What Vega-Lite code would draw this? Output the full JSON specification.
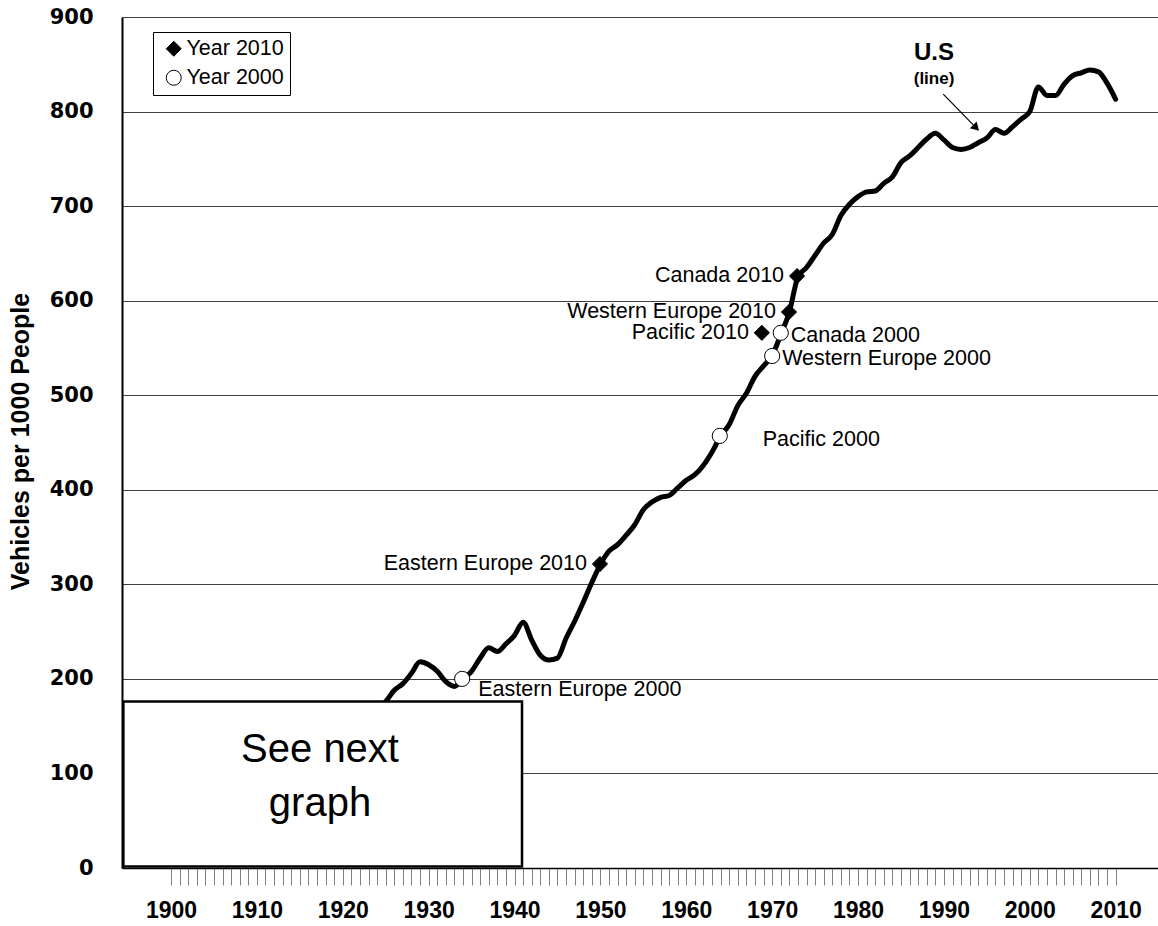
{
  "$schema": "https://vega.github.io/schema/vega-lite/v6.json",
  "width": 1036,
  "height": 851,
  "autosize": {"type": "none"},
  "padding": {"left": 122, "top": 17, "right": 0, "bottom": 58},
  "background": "white",
  "datasets": {
    "us": [
      {"year": 1924, "value": 166}, {"year": 1925, "value": 176}, {"year": 1926, "value": 188}, {"year": 1927, "value": 195},
      {"year": 1928, "value": 206}, {"year": 1929, "value": 218}, {"year": 1930, "value": 215}, {"year": 1931, "value": 208},
      {"year": 1932, "value": 197}, {"year": 1933, "value": 192}, {"year": 1934, "value": 200}, {"year": 1935, "value": 208},
      {"year": 1936, "value": 222}, {"year": 1937, "value": 233}, {"year": 1938, "value": 229}, {"year": 1939, "value": 237},
      {"year": 1940, "value": 246}, {"year": 1941, "value": 260}, {"year": 1942, "value": 241}, {"year": 1943, "value": 225},
      {"year": 1944, "value": 220}, {"year": 1945, "value": 222}, {"year": 1946, "value": 243}, {"year": 1947, "value": 261},
      {"year": 1948, "value": 281}, {"year": 1949, "value": 302}, {"year": 1950, "value": 321}, {"year": 1951, "value": 335},
      {"year": 1952, "value": 342}, {"year": 1953, "value": 352}, {"year": 1954, "value": 363}, {"year": 1955, "value": 379},
      {"year": 1956, "value": 387}, {"year": 1957, "value": 392}, {"year": 1958, "value": 394}, {"year": 1959, "value": 402},
      {"year": 1960, "value": 410}, {"year": 1961, "value": 416}, {"year": 1962, "value": 426}, {"year": 1963, "value": 440},
      {"year": 1964, "value": 457}, {"year": 1965, "value": 469}, {"year": 1966, "value": 489}, {"year": 1967, "value": 502},
      {"year": 1968, "value": 520}, {"year": 1969, "value": 531}, {"year": 1970, "value": 542}, {"year": 1971, "value": 564},
      {"year": 1972, "value": 588}, {"year": 1973, "value": 625}, {"year": 1974, "value": 635}, {"year": 1975, "value": 648},
      {"year": 1976, "value": 661}, {"year": 1977, "value": 670}, {"year": 1978, "value": 690}, {"year": 1979, "value": 702},
      {"year": 1980, "value": 710}, {"year": 1981, "value": 715}, {"year": 1982, "value": 716}, {"year": 1983, "value": 724},
      {"year": 1984, "value": 731}, {"year": 1985, "value": 746}, {"year": 1986, "value": 753}, {"year": 1987, "value": 762},
      {"year": 1988, "value": 771}, {"year": 1989, "value": 777}, {"year": 1990, "value": 770}, {"year": 1991, "value": 762},
      {"year": 1992, "value": 760}, {"year": 1993, "value": 762}, {"year": 1994, "value": 767}, {"year": 1995, "value": 772},
      {"year": 1996, "value": 781}, {"year": 1997, "value": 777}, {"year": 1998, "value": 784}, {"year": 1999, "value": 792},
      {"year": 2000, "value": 800}, {"year": 2001, "value": 826}, {"year": 2002, "value": 817}, {"year": 2003, "value": 817},
      {"year": 2004, "value": 829}, {"year": 2005, "value": 838}, {"year": 2006, "value": 841}, {"year": 2007, "value": 844},
      {"year": 2008, "value": 842}, {"year": 2009, "value": 830}, {"year": 2010, "value": 813}
    ],
    "pts": [
      {"label": "Eastern Europe 2010", "series": "Year 2010", "year": 1949.95, "value": 321.5},
      {"label": "Canada 2010", "series": "Year 2010", "year": 1972.9, "value": 626},
      {"label": "Western Europe 2010", "series": "Year 2010", "year": 1971.96, "value": 588},
      {"label": "Pacific 2010", "series": "Year 2010", "year": 1968.8, "value": 566},
      {"label": "Eastern Europe 2000", "series": "Year 2000", "year": 1933.9, "value": 200},
      {"label": "Canada 2000", "series": "Year 2000", "year": 1971.0, "value": 566},
      {"label": "Western Europe 2000", "series": "Year 2000", "year": 1970.0, "value": 541.5},
      {"label": "Pacific 2000", "series": "Year 2000", "year": 1963.9, "value": 457}
    ],
    "one": [{}]
  },
  "layer": [
    {
      "data": {"name": "us"},
      "mark": {"type": "line", "color": "black", "strokeWidth": 5, "interpolate": "monotone", "strokeJoin": "round", "strokeCap": "round"},
      "encoding": {
        "x": {
          "field": "year", "type": "quantitative",
          "scale": {"domain": [1894.29, 2014.93], "nice": false, "zero": false},
          "axis": {
            "title": null,
            "values": [1900,1901,1902,1903,1904,1905,1906,1907,1908,1909,1910,1911,1912,1913,1914,1915,1916,1917,1918,1919,1920,1921,1922,1923,1924,1925,1926,1927,1928,1929,1930,1931,1932,1933,1934,1935,1936,1937,1938,1939,1940,1941,1942,1943,1944,1945,1946,1947,1948,1949,1950,1951,1952,1953,1954,1955,1956,1957,1958,1959,1960,1961,1962,1963,1964,1965,1966,1967,1968,1969,1970,1971,1972,1973,1974,1975,1976,1977,1978,1979,1980,1981,1982,1983,1984,1985,1986,1987,1988,1989,1990,1991,1992,1993,1994,1995,1996,1997,1998,1999,2000,2001,2002,2003,2004,2005,2006,2007,2008,2009,2010],
            "tickCount": 500,
            "labelExpr": "datum.value % 10 === 0 ? '' + datum.value : ''",
            "labelOverlap": false, "labelFlush": false, "grid": false,
            "domainColor": "black", "domainWidth": 1.5,
            "tickColor": "#808080", "tickWidth": 1, "tickSize": 17,
            "labelFont": "Liberation Sans", "labelFontWeight": "bold", "labelFontSize": 23, "labelColor": "black",
            "labelPadding": 14
          }
        },
        "y": {
          "field": "value", "type": "quantitative",
          "scale": {"domain": [0, 900], "nice": false},
          "axis": {
            "title": "Vehicles per 1000 People",
            "values": [0,100,200,300,400,500,600,700,800,900],
            "grid": true, "gridColor": "#404040", "gridWidth": 1,
            "domainColor": "black", "domainWidth": 2, "ticks": false,
            "labelFont": "DejaVu Sans", "labelFontWeight": "bold", "labelFontSize": 21, "labelColor": "black",
            "labelPadding": 29,
            "titleFont": "Liberation Sans", "titleFontWeight": "bold", "titleFontSize": 25, "titleColor": "black",
            "titleAngle": -90, "titleX": -102, "titleY": 424, "titleAlign": "center", "titleBaseline": "middle"
          }
        }
      }
    },
    {
      "data": {"name": "pts"},
      "mark": {"type": "point", "filled": true, "size": 230, "strokeWidth": 1, "opacity": 1},
      "encoding": {
        "x": {"field": "year", "type": "quantitative"},
        "y": {"field": "value", "type": "quantitative"},
        "stroke": {"field": "series", "type": "nominal",
          "scale": {"domain": ["Year 2010", "Year 2000"], "range": ["black", "black"]},
          "legend": {"orient": "none", "legendX": 31, "legendY": 15, "title": null}},
        "fill": {"field": "series", "type": "nominal",
          "scale": {"domain": ["Year 2010", "Year 2000"], "range": ["black", "white"]},
          "legend": {"orient": "none", "legendX": 31, "legendY": 15, "title": null}},
        "shape": {"field": "series", "type": "nominal",
          "scale": {"domain": ["Year 2010", "Year 2000"], "range": ["diamond", "circle"]},
          "legend": {"orient": "none", "legendX": 31, "legendY": 15, "title": null}}
      }
    },
    {
      "data": {"name": "pts"},
      "transform": [{"filter": "datum.series === 'Year 2010'"}],
      "mark": {"type": "text", "align": "right", "baseline": "middle", "dx": -13, "font": "Liberation Sans", "fontSize": 21.5, "color": "black"},
      "encoding": {
        "x": {"field": "year", "type": "quantitative"},
        "y": {"field": "value", "type": "quantitative"},
        "text": {"field": "label"}
      }
    },
    {
      "data": {"name": "pts"},
      "transform": [{"filter": "datum.label === 'Canada 2000' || datum.label === 'Western Europe 2000'"}],
      "mark": {"type": "text", "align": "left", "baseline": "middle", "dx": 10, "dy": 3, "font": "Liberation Sans", "fontSize": 21.5, "color": "black"},
      "encoding": {
        "x": {"field": "year", "type": "quantitative"},
        "y": {"field": "value", "type": "quantitative"},
        "text": {"field": "label"}
      }
    },
    {
      "data": {"name": "pts"},
      "transform": [{"filter": "datum.label === 'Pacific 2000'"}],
      "mark": {"type": "text", "align": "left", "baseline": "middle", "dx": 43, "dy": 4, "font": "Liberation Sans", "fontSize": 21.5, "color": "black"},
      "encoding": {
        "x": {"field": "year", "type": "quantitative"},
        "y": {"field": "value", "type": "quantitative"},
        "text": {"field": "label"}
      }
    },
    {
      "data": {"name": "pts"},
      "transform": [{"filter": "datum.label === 'Eastern Europe 2000'"}],
      "mark": {"type": "text", "align": "left", "baseline": "middle", "dx": 16, "dy": 11, "font": "Liberation Sans", "fontSize": 21.5, "color": "black"},
      "encoding": {
        "x": {"field": "year", "type": "quantitative"},
        "y": {"field": "value", "type": "quantitative"},
        "text": {"field": "label"}
      }
    },
    {
      "data": {"name": "one"},
      "mark": {"type": "rect", "fill": "white", "stroke": "black", "strokeWidth": 2.5},
      "encoding": {
        "x": {"datum": 1894.45, "type": "quantitative"},
        "x2": {"datum": 1940.87},
        "y": {"datum": 1.5, "type": "quantitative"},
        "y2": {"datum": 176}
      }
    },
    {
      "data": {"name": "one"},
      "mark": {"type": "text", "align": "center", "baseline": "alphabetic", "font": "Liberation Sans", "fontSize": 40, "color": "black", "text": "See next"},
      "encoding": {
        "x": {"datum": 1917.35, "type": "quantitative"},
        "y": {"datum": 112, "type": "quantitative"}
      }
    },
    {
      "data": {"name": "one"},
      "mark": {"type": "text", "align": "center", "baseline": "alphabetic", "font": "Liberation Sans", "fontSize": 40, "color": "black", "text": "graph"},
      "encoding": {
        "x": {"datum": 1917.35, "type": "quantitative"},
        "y": {"datum": 55.5, "type": "quantitative"}
      }
    },
    {
      "data": {"name": "one"},
      "mark": {"type": "text", "align": "center", "baseline": "alphabetic", "font": "Liberation Sans", "fontWeight": "bold", "fontSize": 24, "color": "black", "text": "U.S"},
      "encoding": {
        "x": {"datum": 1988.85, "type": "quantitative"},
        "y": {"datum": 854.5, "type": "quantitative"}
      }
    },
    {
      "data": {"name": "one"},
      "mark": {"type": "text", "align": "center", "baseline": "alphabetic", "font": "Liberation Sans", "fontWeight": "bold", "fontSize": 17, "color": "black", "text": "(line)"},
      "encoding": {
        "x": {"datum": 1988.85, "type": "quantitative"},
        "y": {"datum": 828.8, "type": "quantitative"}
      }
    },
    {
      "data": {"name": "one"},
      "mark": {"type": "rule", "color": "black", "strokeWidth": 1.2},
      "encoding": {
        "x": {"datum": 1989.92, "type": "quantitative"},
        "y": {"datum": 818.5, "type": "quantitative"},
        "x2": {"datum": 1993.9},
        "y2": {"datum": 781.5}
      }
    },
    {
      "data": {"name": "one"},
      "mark": {"type": "point", "shape": "triangle-right", "filled": true, "color": "black", "size": 90, "angle": 46, "opacity": 1},
      "encoding": {
        "x": {"datum": 1993.75, "type": "quantitative"},
        "y": {"datum": 782.8, "type": "quantitative"}
      }
    }
  ],
  "config": {
    "view": {"stroke": null},
    "legend": {
      "strokeColor": "black", "fillColor": "white", "padding": 6,
      "symbolOffset": 4, "symbolSize": 225, "symbolStrokeWidth": 1,
      "labelFont": "Liberation Sans", "labelFontSize": 21.5, "labelColor": "black", "labelOffset": 2,
      "rowPadding": 6
    }
  }
}
